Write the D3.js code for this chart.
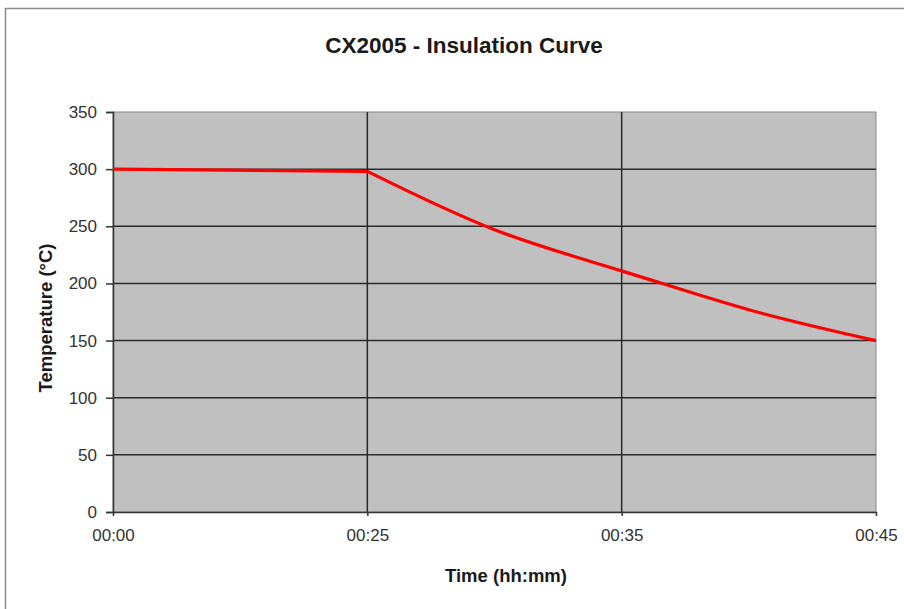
<!DOCTYPE html>
<html>
<head>
<meta charset="utf-8">
<script src="https://cdn.jsdelivr.net/npm/d3@7"></script>
<style>
  body { margin: 0; background: #fff; }
  svg { display: block; font-family: "Liberation Sans", Arial, sans-serif; }
</style>
</head>
<body>
<div class="container"></div>
<script>
// Data
var CATEGORIES = ['00:00', '00:25', '00:30', '00:35', '00:40', '00:45'];
var TEMPERATURES = [300, 298, 247, 211, 177, 150];
var X_LABELS = ['00:00', '00:25', '00:35', '00:45'];
var X_GRID = ['00:25', '00:35'];
var Y_TICKS = [0, 50, 100, 150, 200, 250, 300, 350];

var width = 904, height = 609;
var plot = {left: 113, right: 876, top: 112, bottom: 512};

var svg = d3.select('.container').append('svg')
    .attr('width', width)
    .attr('height', height);

// chart frame (cut off at right and bottom like the screenshot)
svg.append('rect')
    .attr('x', 5.5).attr('y', 8.5)
    .attr('width', width + 10).attr('height', height + 10)
    .attr('fill', '#fff')
    .attr('stroke', '#8c8c8c')
    .attr('stroke-width', 1.5);

// x: labelled times sit at 0, 1/3, 2/3, 1 of the plot width
var xPos = {'00:00': 0, '00:25': 1, '00:30': 1.5, '00:35': 2, '00:40': 2.5, '00:45': 3};
var xScale = d3.scaleLinear().domain([0, 3]).range([plot.left, plot.right]);
var x = function(c) { return xScale(xPos[c]); };

var yScale = d3.scaleLinear().domain([0, 350]).range([plot.bottom, plot.top]);

// plot area
svg.append('rect')
    .attr('x', plot.left).attr('y', plot.top)
    .attr('width', plot.right - plot.left)
    .attr('height', plot.bottom - plot.top)
    .attr('fill', '#c0c0c0')
    .attr('stroke', '#8a8a8a')
    .attr('stroke-width', 1);

// horizontal grid
svg.append('g')
  .selectAll('line')
  .data(Y_TICKS.filter(function(d) { return d > 0 && d < 350; }))
  .enter().append('line')
    .attr('x1', plot.left).attr('x2', plot.right)
    .attr('y1', function(d) { return yScale(d); })
    .attr('y2', function(d) { return yScale(d); })
    .attr('stroke', '#2a2a2a')
    .attr('stroke-width', 1.5);

// vertical grid
svg.append('g')
  .selectAll('line')
  .data(X_GRID)
  .enter().append('line')
    .attr('x1', function(d) { return x(d); })
    .attr('x2', function(d) { return x(d); })
    .attr('y1', plot.top).attr('y2', plot.bottom)
    .attr('stroke', '#2a2a2a')
    .attr('stroke-width', 1.5);

// y axis
var yAxis = svg.append('g')
    .attr('transform', 'translate(' + plot.left + ',0)')
    .call(d3.axisLeft(yScale).tickValues(Y_TICKS).tickSize(7).tickPadding(9));
yAxis.select('.domain').attr('stroke', '#333').attr('stroke-width', 1.5);
yAxis.selectAll('.tick line').attr('stroke', '#333').attr('stroke-width', 1.5);
yAxis.selectAll('.tick text')
    .attr('fill', '#333')
    .style('font-size', '17px');

// x axis
var xAxis = svg.append('g')
    .attr('transform', 'translate(0,' + plot.bottom + ')')
    .call(d3.axisBottom(xScale)
        .tickValues(X_LABELS.map(function(c) { return xPos[c]; }))
        .tickFormat(function(v, i) { return X_LABELS[i]; })
        .tickSize(4).tickSizeOuter(0).tickPadding(13));
xAxis.select('.domain').attr('stroke', '#333').attr('stroke-width', 1.5);
xAxis.selectAll('.tick line').attr('stroke', '#333').attr('stroke-width', 1.5);
xAxis.selectAll('.tick text')
    .attr('fill', '#333')
    .style('font-size', '17px');

// the curve: straight hold, then smooth decay
var pts = CATEGORIES.map(function(c, i) { return {x: x(c), y: yScale(TEMPERATURES[i])}; });
var line = d3.line()
    .x(function(d) { return d.x; })
    .y(function(d) { return d.y; });

svg.append('path')
    .datum(pts.slice(0, 2))
    .attr('d', line.curve(d3.curveLinear))
    .attr('fill', 'none')
    .attr('stroke', '#ff0000')
    .attr('stroke-width', 3.2);

svg.append('path')
    .datum(pts.slice(1))
    .attr('d', line.curve(d3.curveNatural))
    .attr('fill', 'none')
    .attr('stroke', '#ff0000')
    .attr('stroke-width', 3.2)
    .attr('stroke-linejoin', 'round');

// title
svg.append('text')
    .attr('x', 464).attr('y', 53)
    .attr('text-anchor', 'middle')
    .style('font-size', '22.5px')
    .style('font-weight', 'bold')
    .attr('fill', '#1a1a1a')
    .text('CX2005 - Insulation Curve');

// axis titles
svg.append('text')
    .attr('x', 506).attr('y', 582)
    .attr('text-anchor', 'middle')
    .style('font-size', '18.5px')
    .style('font-weight', 'bold')
    .attr('fill', '#1a1a1a')
    .text('Time (hh:mm)');

svg.append('text')
    .attr('transform', 'translate(52,318) rotate(-90)')
    .attr('text-anchor', 'middle')
    .style('font-size', '18.5px')
    .style('font-weight', 'bold')
    .attr('fill', '#1a1a1a')
    .text('Temperature (°C)');
</script>
</body>
</html>
